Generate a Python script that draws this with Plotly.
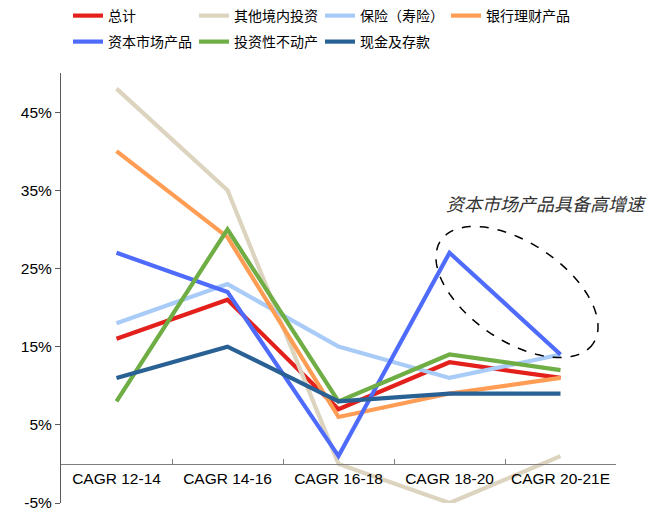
import numpy as np
import plotly.graph_objects as go

categories = ["CAGR 12-14", "CAGR 14-16", "CAGR 16-18", "CAGR 18-20", "CAGR 20-21E"]

total = [16, 21, 7, 13, 11]
other_domestic = [48, 35, 0, -5, 1]
insurance = [18, 23, 15, 11, 14]
bank_wm = [40, 29, 6, 9, 11]
capital_market = [27, 22, 1, 27, 14]
real_estate = [8, 30, 8, 14, 12]
cash_deposit = [11, 15, 8, 9, 9]

y_tick_vals = [-5, 5, 15, 25, 35, 45]
y_tick_text = ["-5%", "5%", "15%", "25%", "35%", "45%"]

series_names = ["总计", "其他境内投资", "保险（寿险）", "银行理财产品",
                "资本市场产品", "投资性不动产", "现金及存款"]
series_values = [total, other_domestic, insurance, bank_wm,
                 capital_market, real_estate, cash_deposit]
series_colors = ["#e3201b", "#ddd4bf", "#a9cbf7", "#ff9d55",
                 "#4f6bfc", "#6fad45", "#2a6194"]
legend_ids = ["legend", "legend", "legend", "legend", "legend2", "legend2", "legend2"]

FONT = "Liberation Sans, Arial, Noto Sans CJK SC, sans-serif"

fig = go.Figure()
for i in range(7):
    fig.add_trace(go.Scatter(
        x=categories, y=series_values[i], mode="lines", name=series_names[i],
        line=dict(color=series_colors[i], width=4.2),
        legend=legend_ids[i], showlegend=True,
    ))

W, H = 662, 513
L, R, T, B = 61, 46, 73, 10
pw, ph = W - L - R, H - T - B

ymin, ymax = -5, 50

# dashed tilted ellipse (annotation decoration), defined in pixel space
cx, cy, a, b, ang = 517, 292, 92, 49, np.deg2rad(34)
t = np.linspace(0, 2 * np.pi, 90)
px = cx + a * np.cos(t) * np.cos(ang) - b * np.sin(t) * np.sin(ang)
py = cy + a * np.cos(t) * np.sin(ang) + b * np.sin(t) * np.cos(ang)
xp = (px - L) / pw
yp = (H - B - py) / ph
path = "M" + " L".join(f"{x:.4f},{y:.4f}" for x, y in zip(xp, yp)) + " Z"

legend_common = dict(orientation="h", xref="container", yref="container",
                     x=68 / W, xanchor="left", yanchor="middle",
                     font=dict(size=14), entrywidth=81, entrywidthmode="pixels",
                     bgcolor="rgba(0,0,0,0)", itemclick=False)

fig.update_layout(
    width=W, height=H,
    margin=dict(l=L, r=R, t=T, b=B, pad=0, autoexpand=False),
    paper_bgcolor="white", plot_bgcolor="white",
    font=dict(family=FONT, size=15.5, color="#000000"),
    showlegend=True,
    legend=dict(legend_common, y=1 - 16 / H),
    legend2=dict(legend_common, y=1 - 42 / H),
    xaxis=dict(
        type="category", range=[-0.5, 4.5], automargin=False,
        showline=True, linecolor="#7f7f7f", linewidth=1,
        ticks="inside", ticklen=5, tickcolor="#7f7f7f", tickson="boundaries",
        showgrid=False, zeroline=False,
        anchor="free", position=(0 - ymin) / (ymax - ymin),
        tickfont=dict(size=15.5),
    ),
    yaxis=dict(
        range=[ymin, ymax], tickmode="array", tickvals=y_tick_vals,
        ticktext=y_tick_text, automargin=False,
        showline=True, linecolor="#595959", linewidth=1,
        ticks="outside", ticklen=5, tickcolor="#595959",
        showgrid=False, zeroline=False,
        tickfont=dict(size=15.5),
    ),
    shapes=[dict(type="path", xref="paper", yref="paper", path=path,
                 line=dict(color="#000000", width=1.5, dash="dash"))],
    annotations=[dict(
        text="资本市场产品具备高增速", xref="paper", yref="paper",
        x=(546 - L) / pw, y=(H - B - 203) / ph, showarrow=False,
        xanchor="center", yanchor="middle",
        font=dict(size=18, color="#333333", style="italic",
                  family="Noto Sans CJK SC, sans-serif"),
    )],
)

fig.write_html(
    "out.html",
    config={"displayModeBar": False},
    post_script="document.body.style.margin='0';document.body.style.overflow='hidden';",
)
